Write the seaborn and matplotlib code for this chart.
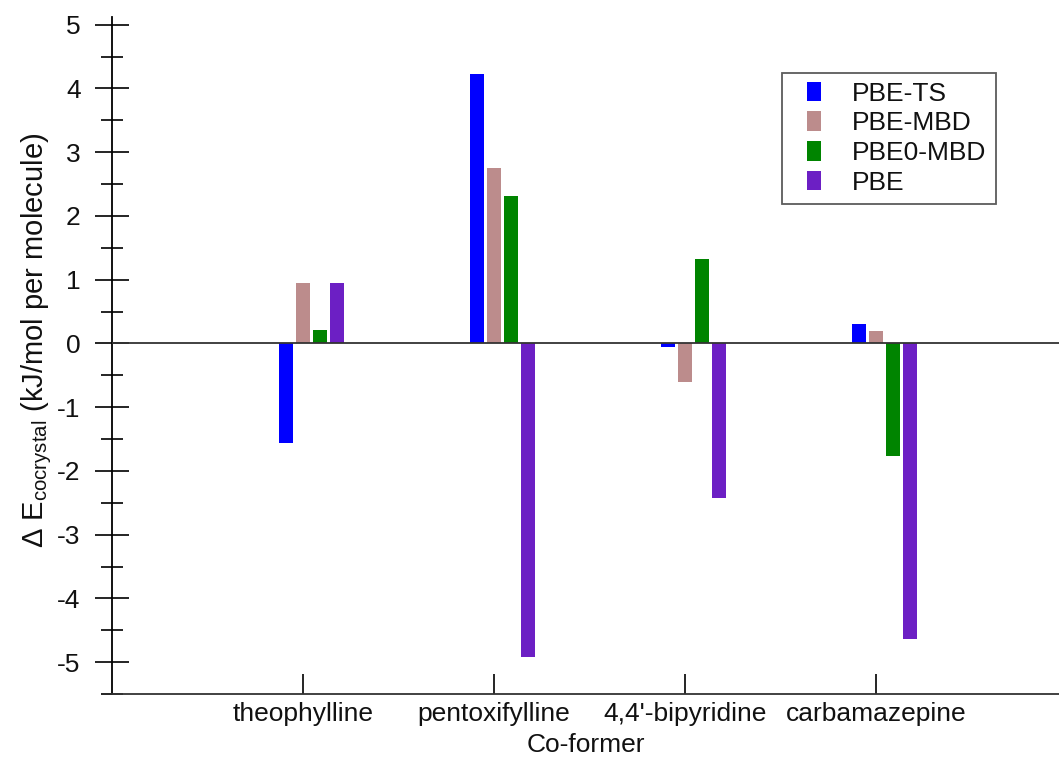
import numpy as np
import pandas as pd
import matplotlib
matplotlib.use("Agg")
import matplotlib.pyplot as plt
import seaborn as sns
from matplotlib.patches import Patch, Rectangle
from matplotlib.legend_handler import HandlerPatch
from matplotlib.ticker import MultipleLocator

# ---- data ----
coformers = ["theophylline", "pentoxifylline", "4,4'-bipyridine", "carbamazepine"]
methods = ["PBE-TS", "PBE-MBD", "PBE0-MBD", "PBE"]
pbe_ts = [-1.57, 4.22, -0.06, 0.31]
pbe_mbd = [0.94, 2.75, -0.61, 0.19]
pbe0_mbd = [0.21, 2.31, 1.33, -1.76]
pbe = [0.94, -4.92, -2.43, -4.64]
colors = ["#0000ff", "#bc8c8c", "#008400", "#6c1fc4"]

values = {"PBE-TS": pbe_ts, "PBE-MBD": pbe_mbd, "PBE0-MBD": pbe0_mbd, "PBE": pbe}
rows = []
for m in methods:
    for c, v in zip(coformers, values[m]):
        rows.append({"Co-former": c, "method": m, "dE": v})
df = pd.DataFrame(rows)

sns.set_theme(style="white")
plt.rcParams["font.family"] = ["Liberation Sans", "DejaVu Sans"]
plt.rcParams["mathtext.fontset"] = "custom"
plt.rcParams["mathtext.rm"] = "Liberation Sans"
plt.rcParams["mathtext.it"] = "Liberation Sans"
plt.rcParams["axes.unicode_minus"] = False
for key in ["text.color", "axes.labelcolor", "xtick.color", "ytick.color",
            "xtick.labelcolor", "ytick.labelcolor"]:
    plt.rcParams[key] = "#111111"

FS = 19
fig = plt.figure(figsize=(10.59, 7.60), dpi=100)
ax = fig.add_axes([112 / 1059, 1 - 694 / 760, 1 - 112 / 1059, 677 / 760])

# a leading empty hue slot places the bar series Igor-style (2nd series on the tick)
blank = " "
hue_order = [blank] + methods
palette = dict(zip(hue_order, ["white"] + colors))
sns.barplot(data=df, x="Co-former", y="dE", hue="method", hue_order=hue_order,
            order=coformers, palette=palette, width=0.445, gap=0.18,
            saturation=1, errorbar=None, legend=False, ax=ax, linewidth=0)

ax.axhline(0, color="#333333", lw=1.3, zorder=3)
ax.set_xlim(-1.0, 3.957)
ax.set_ylim(-5.5, 5.12)

for s in ["top", "right"]:
    ax.spines[s].set_visible(False)
ax.spines["left"].set_color("black")
ax.spines["left"].set_linewidth(1.3)
ax.spines["bottom"].set_color("#333333")
ax.spines["bottom"].set_linewidth(1.3)

ax.yaxis.set_major_locator(MultipleLocator(1))
ax.yaxis.set_minor_locator(MultipleLocator(0.5))
ax.tick_params(axis="y", which="major", direction="inout", length=25, width=1.2,
               labelsize=FS, pad=10, color="black", left=True)
ax.tick_params(axis="y", which="minor", direction="inout", length=16.5, width=1.2,
               color="black", left=True)
ax.tick_params(axis="x", which="major", direction="in", length=14.4, width=1.2,
               labelsize=FS, pad=6, color="black", bottom=True)

ax.set_xlabel("Co-former", fontsize=19, labelpad=5)
ax.set_ylabel(r"Δ E$_{\mathrm{cocrystal}}$ (kJ/mol per molecule)", fontsize=21)
ax.yaxis.set_label_coords(-0.061, 0.523)


def centered_square(legend, orig_handle, xdescent, ydescent, width, height, fontsize):
    return Rectangle((-xdescent + width * 16 / 46, -ydescent), width * 14 / 46, height)


handles = [Patch(facecolor=c, edgecolor="none") for c in colors]
leg = ax.legend(handles, methods, loc="upper left", bbox_to_anchor=(0.7075, 0.918),
                borderaxespad=0, fontsize=FS, frameon=True, fancybox=False,
                handlelength=1.74, handleheight=0.76, handletextpad=0.57,
                labelspacing=0.215, borderpad=0.35,
                handler_map={Patch: HandlerPatch(patch_func=centered_square)})
leg.get_frame().set_edgecolor("#333333")
leg.get_frame().set_linewidth(1.3)

fig.savefig("out.png", dpi=100)
